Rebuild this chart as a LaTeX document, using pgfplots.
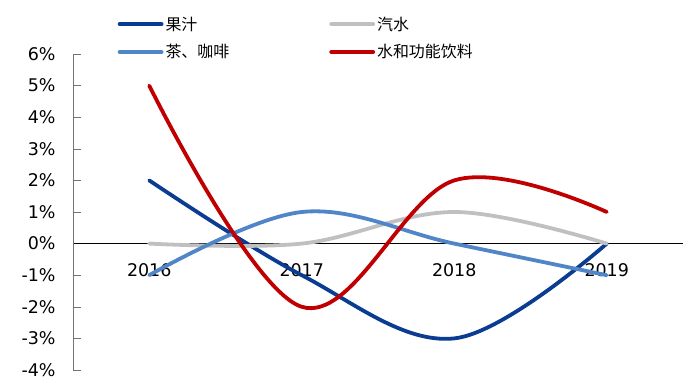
\documentclass[border=0pt]{standalone}
\usepackage{pgfplots}
\pgfplotsset{compat=1.18}
\usepackage{fontspec}
\setmainfont{DejaVu Sans}
\newfontfamily\cjk{Noto Sans CJK SC}
\definecolor{dblue}{RGB}{10,60,145}
\definecolor{lblue}{RGB}{80,134,200}
\definecolor{lgray}{RGB}{192,192,192}
\definecolor{dred}{RGB}{192,0,0}
\begin{document}
\begin{tikzpicture}
\path[use as bounding box] (-73bp,-9bp) rectangle (619bp,370bp);
\begin{axis}[
  at={(0,0)}, anchor=south west,
  scale only axis, width=610bp, height=316bp,
  xmin=-0.5, xmax=3.5, ymin=-4, ymax=6,
  axis x line=middle, axis y line=left,
  axis line style={-},
  y axis line style={draw=black!55},
  x axis line style={draw=black},
  xtick={0,1,2,3}, xticklabels={2016,2017,2018,2019},
  major x tick style={draw=none},
  extra x ticks={0.5,1.5,2.5,3.5}, extra x tick labels={},
  extra x tick style={major tick length=7bp, tick align=inside, tick style={draw=black!55}},
  xticklabel style={font=\fontsize{17.5}{20}\selectfont, yshift=-12bp},
  ytick={-4,-3,...,6},
  yticklabels={-4\%,-3\%,-2\%,-1\%,0\%,1\%,2\%,3\%,4\%,5\%,6\%},
  yticklabel style={font=\fontsize{17.5}{20}\selectfont, xshift=-14bp},
  major tick length=8bp,
  y tick style={draw=black!55},
  ytick align=inside,
  legend columns=2,
  legend cell align=left,
  legend style={draw=none, fill=none, inner sep=0pt, anchor=north west,
    at={(0.073,1.125)}, font=\cjk\fontsize{16}{19}\selectfont, row sep=9bp,
    /tikz/every even column/.append style={column sep=98bp}},
  legend image code/.code={\draw[#1] (0bp,0bp) -- (42bp,0bp);},
  every axis plot/.append style={line width=3.8bp, smooth, tension=0.6, line cap=round},
  clip=false,
]
\addplot[dblue] coordinates {(0,2) (1,-1) (2,-3) (3,0)};
\addlegendentry{果汁}
\addplot[lgray] coordinates {(0,0) (1,0) (2,1) (3,0)};
\addlegendentry{汽水}
\addplot[lblue] coordinates {(0,-1) (1,1) (2,0) (3,-1)};
\addlegendentry{茶、咖啡}
\addplot[dred] coordinates {(0,5) (1,-2) (2,2) (3,1)};
\addlegendentry{水和功能饮料}
\end{axis}
\end{tikzpicture}
\end{document}
